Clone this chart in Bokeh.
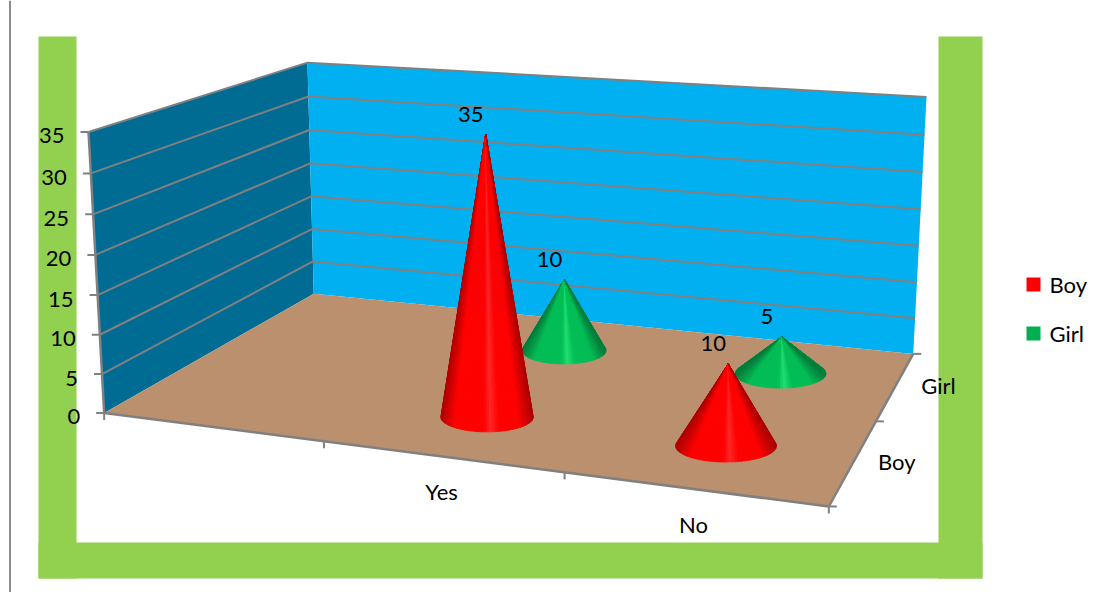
import numpy as np
from bokeh.plotting import figure
from bokeh.models import Range1d
from bokeh.core.properties import value
from bokeh.embed import file_html
from bokeh.resources import INLINE

categories = ["", "Yes", "No"]
series = ["Boy", "Girl"]
boy = [None, 35, 10]
girl = [None, 10, 5]
y_ticks = [0, 5, 10, 15, 20, 25, 30, 35]
y_max = 35

FONT = value("Lato")
GREY = "#808080"
FS = "22px"

# perspective camera: fitted to the box's visible corners (x, z, v/y_max) -> pixel
corners = [((0, 0, 0), (104, 412)), ((0, 0, 1), (88, 131)), ((0, 1, 0), (313, 294)),
           ((0, 1, 1), (307, 62)), ((1, 1, 0), (913, 352)), ((1, 1, 1), (926, 97)),
           ((1, 0, 0), (828, 507))]
A, b = [], []
for (X, Z, Y), (u, v) in corners:
    A.append([X, Z, Y, 1, 0, 0, 0, 0, -u * X, -u * Z, -u * Y]); b.append(u)
    A.append([0, 0, 0, 0, X, Z, Y, 1, -v * X, -v * Z, -v * Y]); b.append(v)
P = np.append(np.linalg.lstsq(np.array(A, float), np.array(b, float), rcond=None)[0], 1).reshape(3, 4)

def proj(x, z, val=0):
    h = P @ np.array([x, z, val / y_max, 1.0])
    return h[0] / h[2], h[1] / h[2]

def poly(*pts):
    return [p[0] for p in pts], [p[1] for p in pts]

p = figure(width=1096, height=592, output_backend="svg", toolbar_location=None,
           x_range=Range1d(0, 1096), y_range=Range1d(592, 0), min_border=0)
p.axis.visible = False
p.grid.visible = False
p.outline_line_color = None
p.background_fill_color = "white"
p.border_fill_color = "white"

# page rule and green frame
p.line([9.5, 9.5], [0, 598], line_color="#8c8c8c", line_width=2)
p.quad(left=[38, 938, 38], right=[76, 982, 982], top=[36, 36, 542], bottom=[578, 578, 578],
       fill_color="#92D050", line_color=None)

# walls and floor
xs, ys = poly(proj(0, 0, 0), proj(0, 0, y_max), proj(0, 1, y_max), proj(0, 1, 0))
p.patch(xs, ys, fill_color="#006C94", line_color=None)
xs, ys = poly(proj(0, 1, 0), proj(0, 1, y_max), proj(1, 1, y_max), proj(1, 1, 0))
p.patch(xs, ys, fill_color="#00B0F0", line_color=None)
xs, ys = poly(proj(0, 0, 0), proj(0, 1, 0), proj(1, 1, 0), proj(1, 0, 0))
p.patch(xs, ys, fill_color="#BA906E", line_color=None)

# gridlines
for t in y_ticks[1:]:
    a, c, d = proj(0, 0, t), proj(0, 1, t), proj(1, 1, t)
    p.line([a[0], c[0], d[0]], [a[1], c[1], d[1]], line_color=GREY, line_width=2)

# axis lines and ticks
for seg in [(proj(0, 0, 0), proj(0, 0, y_max)), (proj(0, 0, 0), proj(1, 0, 0)), (proj(1, 0, 0), proj(1, 1, 0))]:
    p.line([seg[0][0], seg[1][0]], [seg[0][1], seg[1][1]], line_color=GREY, line_width=2.5)
for t in y_ticks:
    a = proj(0, 0, t)
    p.line([a[0] - 8, a[0]], [a[1], a[1]], line_color=GREY, line_width=2)
for i in range(len(categories) + 1):
    a = proj(i / len(categories), 0)
    p.line([a[0], a[0]], [a[1], a[1] + 7], line_color=GREY, line_width=2)
for i in range(len(series) + 1):
    a = proj(1, i / len(series))
    p.line([a[0], a[0] + 8], [a[1], a[1]], line_color=GREY, line_width=2)

# cones
def shade(u, dark, mid, hi):
    stops = [-1, -0.7, -0.05, 0.08, 0.28, 0.7, 1]
    rgb = [np.interp(u, stops, [dark[k], mid[k], mid[k], hi[k], mid[k], mid[k], dark[k]]) for k in range(3)]
    return "#%02x%02x%02x" % tuple(int(round(c)) for c in rgb)

def cone(i, j, val, dark, mid, hi):
    x = (i + 0.5) / len(categories)
    z = (j + 0.5) / len(series)
    cx, cy = proj(x, z)
    ax, ay = proj(x, z, val)
    l = proj(x - 0.5 / len(categories), z)
    r = proj(x + 0.5 / len(categories), z)
    rx = 0.2 * np.hypot(r[0] - l[0], r[1] - l[1])
    ry = 0.32 * rx
    alpha = np.arcsin(min(0.95, ry / (cy - ay)))
    th = np.linspace(np.pi + alpha, -alpha, 61)
    px = cx + rx * np.cos(th)
    py = cy + ry * np.sin(th)
    sx, sy, col = [], [], []
    for k in range(len(th) - 1):
        sx.append([ax, px[k], px[k + 1]])
        sy.append([ay, py[k], py[k + 1]])
        col.append(shade(np.clip(np.cos((th[k] + th[k + 1]) / 2), -1, 1), dark, mid, hi))
    p.patches(sx, sy, fill_color=col, line_color=col, line_width=0.8)
    p.text([ax - 15], [ay - 20], text=[str(val)], text_font=FONT, text_font_size=FS,
           text_align="center", text_baseline="middle", text_color="#000000")

RED = ((175, 0, 0), (255, 0, 0), (255, 38, 38))
GRN = ((0, 125, 58), (0, 190, 85), (30, 225, 112))
for i in range(len(categories) - 1, -1, -1):
    if girl[i] is not None:
        cone(i, 1, girl[i], *GRN)
for i in range(len(categories) - 1, -1, -1):
    if boy[i] is not None:
        cone(i, 0, boy[i], *RED)

# tick labels
for t in y_ticks:
    a = proj(0, 0, t)
    p.text([a[0] - 24], [a[1] + 4], text=[str(t)], text_font=FONT, text_font_size=FS,
           text_align="right", text_baseline="middle", text_color="#000000")
for i, c in enumerate(categories):
    a = proj((i + 0.5) / len(categories), 0)
    p.text([a[0]], [a[1] + 35], text=[c], text_font=FONT, text_font_size=FS,
           text_align="center", text_baseline="middle", text_color="#000000")
for j, s in enumerate(series):
    a = proj(1, (j + 0.5) / len(series))
    p.text([a[0] + 43], [a[1]], text=[s], text_font=FONT, text_font_size=FS,
           text_align="center", text_baseline="middle", text_color="#000000")

# legend
for s, yy, c in zip(series, [284, 333], ["#FF0000", "#00B050"]):
    p.quad(left=[1026], right=[1040], top=[yy - 7], bottom=[yy + 7], fill_color=c, line_color=None)
    p.text([1049], [yy], text=[s], text_font=FONT, text_font_size=FS,
           text_align="left", text_baseline="middle", text_color="#000000")

open("out.html", "w").write(file_html(p, INLINE))
